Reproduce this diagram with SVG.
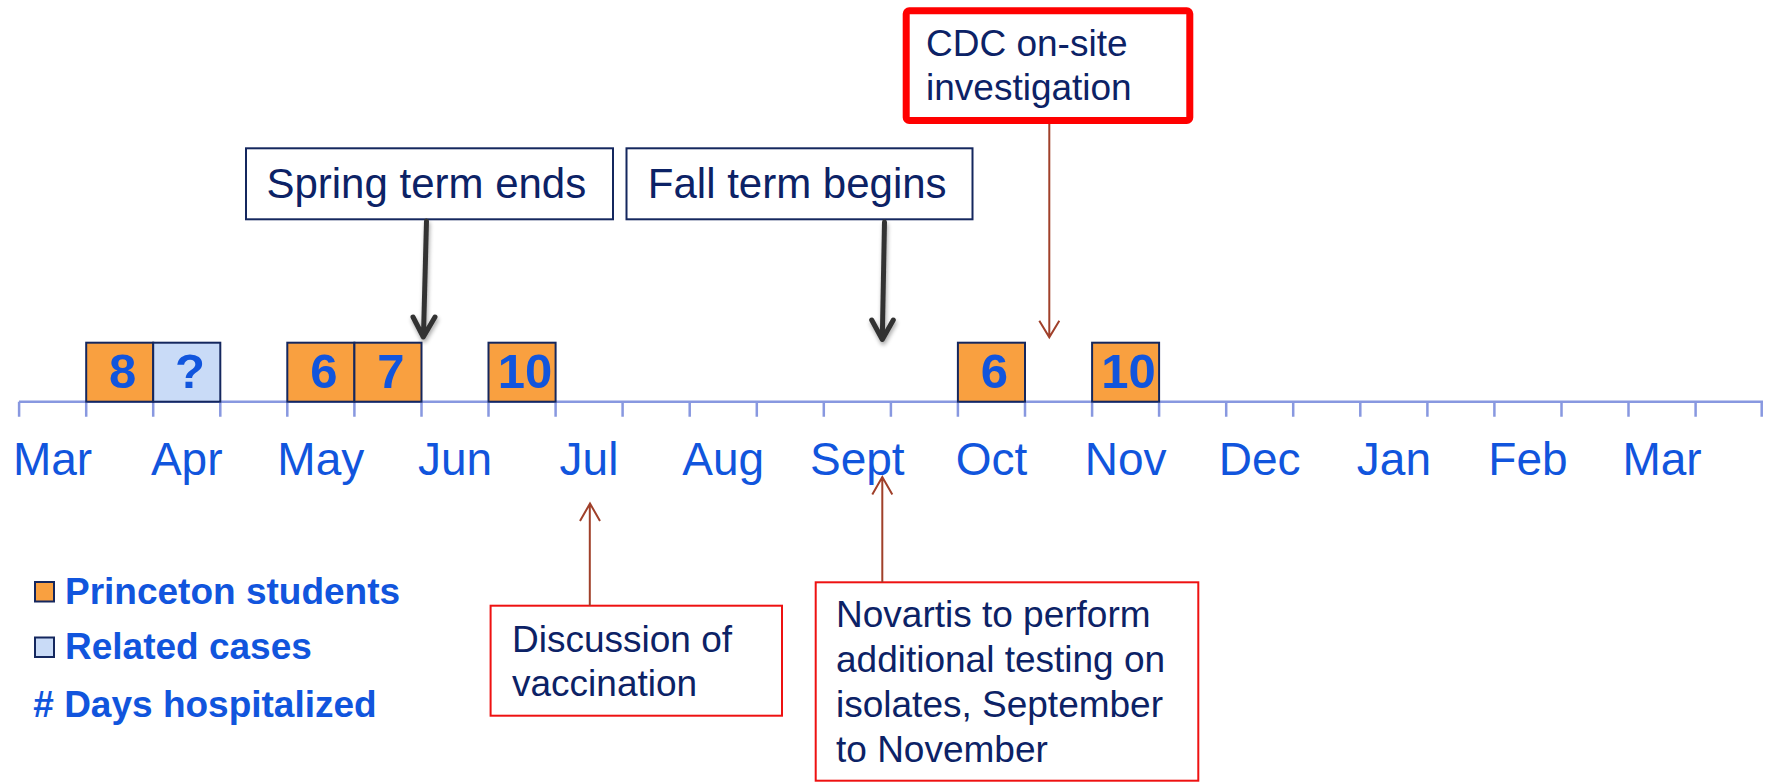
<svg xmlns="http://www.w3.org/2000/svg" width="1769" height="782" viewBox="0 0 1769 782">
<style>
.month{font-family:"Liberation Sans",Arial,sans-serif;font-size:46px;fill:#1155DD;text-anchor:middle}
.num{font-family:"Liberation Sans",Arial,sans-serif;font-size:49px;font-weight:bold;fill:#1155DD;text-anchor:middle}
.leg{font-family:"Liberation Sans",Arial,sans-serif;font-size:37px;font-weight:bold;fill:#1155DD}
.lbl{font-family:"Liberation Sans",Arial,sans-serif;font-size:42px;fill:#0C2266}
.note{font-family:"Liberation Sans",Arial,sans-serif;font-size:37px;fill:#0C2266}
.stu{fill:#F9A040;stroke:#14275E;stroke-width:2}
.rel{fill:#C9DBF7;stroke:#14275E;stroke-width:2}
.tbox{fill:#fff;stroke:#14275E;stroke-width:2}
.rbox{fill:#fff;stroke:#EE1111;stroke-width:2}
.axis{stroke:#8898E0;stroke-width:2.5;fill:none}
.thick{stroke:#333;stroke-width:5;fill:none;stroke-linecap:round;stroke-linejoin:round}
.thin{stroke:#A0402A;stroke-width:2;fill:none}
</style>
<defs>
<filter id="sh" x="-50%" y="-20%" width="200%" height="140%">
<feGaussianBlur in="SourceAlpha" stdDeviation="2"/>
<feOffset dx="1" dy="3" result="b"/>
<feComponentTransfer><feFuncA type="linear" slope="0.35"/></feComponentTransfer>
<feMerge><feMergeNode/><feMergeNode in="SourceGraphic"/></feMerge>
</filter>
</defs>

<g id="axis">
<path class="axis" d="M19 401.7H1763"/>
<path class="axis" d="M19.1 401.7v15M86.2 401.7v15M153.2 401.7v15M220.3 401.7v15M287.3 401.7v15M354.4 401.7v15M421.5 401.7v15M488.5 401.7v15M555.6 401.7v15M622.6 401.7v15M689.7 401.7v15M756.8 401.7v15M823.8 401.7v15M890.9 401.7v15M957.9 401.7v15M1025 401.7v15M1092.1 401.7v15M1159.1 401.7v15M1226.2 401.7v15M1293.2 401.7v15M1360.3 401.7v15M1427.4 401.7v15M1494.4 401.7v15M1561.5 401.7v15M1628.5 401.7v15M1695.6 401.7v15M1761.7 401.7v15"/>
</g>

<g id="months">
<text class="month" x="52.6" y="475">Mar</text>
<text class="month" x="186.7" y="475">Apr</text>
<text class="month" x="320.8" y="475">May</text>
<text class="month" x="455" y="475">Jun</text>
<text class="month" x="589" y="475">Jul</text>
<text class="month" x="723.2" y="475">Aug</text>
<text class="month" x="857.3" y="475">Sept</text>
<text class="month" x="991.5" y="475">Oct</text>
<text class="month" x="1125.6" y="475">Nov</text>
<text class="month" x="1259.7" y="475">Dec</text>
<text class="month" x="1393.9" y="475">Jan</text>
<text class="month" x="1528" y="475">Feb</text>
<text class="month" x="1662.1" y="475">Mar</text>
</g>

<g id="case1"><rect class="stu" x="86.2" y="342.7" width="67" height="59"/><text class="num" x="122.7" y="388">8</text></g>
<g id="case2"><rect class="rel" x="153.2" y="342.7" width="67.1" height="59"/><text class="num" x="190" y="388">?</text></g>
<g id="case3"><rect class="stu" x="287.3" y="342.7" width="67.1" height="59"/><text class="num" x="323.8" y="388">6</text></g>
<g id="case4"><rect class="stu" x="354.4" y="342.7" width="67.1" height="59"/><text class="num" x="390.9" y="388">7</text></g>
<g id="case5"><rect class="stu" x="488.5" y="342.7" width="67.1" height="59"/><text class="num" x="525" y="388">10</text></g>
<g id="case6"><rect class="stu" x="957.9" y="342.7" width="67.1" height="59"/><text class="num" x="994.4" y="388">6</text></g>
<g id="case7"><rect class="stu" x="1092.1" y="342.7" width="67" height="59"/><text class="num" x="1128.6" y="388">10</text></g>

<g id="spring"><rect class="tbox" x="246" y="148.3" width="367" height="71"/><text class="lbl" x="266.4" y="198.3">Spring term ends</text></g>
<g id="fall"><rect class="tbox" x="626.5" y="148.3" width="346" height="71"/><text class="lbl" x="647.8" y="198.3">Fall term begins</text></g>

<g id="cdc"><rect x="906.2" y="10.8" width="283.6" height="109.7" rx="3" fill="#fff" stroke="#FF0000" stroke-width="7"/>
<text class="note" x="926" y="56">CDC on-site</text><text class="note" x="926" y="100">investigation</text></g>

<g id="discussion"><rect class="rbox" x="490.6" y="605.7" width="291.4" height="110"/>
<text class="note" x="512" y="651.7">Discussion of</text><text class="note" x="512" y="696">vaccination</text></g>

<g id="novartis"><rect class="rbox" x="815.7" y="582.3" width="382.6" height="198.4"/>
<text class="note" x="836" y="626.7">Novartis to perform</text>
<text class="note" x="836" y="671.7">additional testing on</text>
<text class="note" x="836" y="716.7">isolates, September</text>
<text class="note" x="836" y="761.7">to November</text></g>

<g id="legend">
<rect class="stu" x="35" y="582" width="19" height="19.5"/>
<text class="leg" x="65" y="604">Princeton students</text>
<rect class="rel" x="35" y="637.5" width="19" height="19.5"/>
<text class="leg" x="65" y="659.3">Related cases</text>
<text class="leg" x="33.3" y="716.7"># Days hospitalized</text>
</g>

<g id="connectors">
<g filter="url(#sh)">
<path class="thick" d="M426.5 221L423.5 335M413 317L423.3 337L435 317"/>
<path class="thick" d="M884.5 222L882.3 338M871.7 320L882.3 339.5L893.3 320"/>
</g>
<path class="thin" d="M1049.3 124V336.5M1039.3 320.7L1049.3 337.3L1059.3 320.7"/>
<path class="thin" d="M589.8 605.7V504M580 521L590 503.5L600 521"/>
<path class="thin" d="M882.3 582.3V477.5M872.3 494.5L882.3 477L892.3 494.5"/>
</g>
</svg>
